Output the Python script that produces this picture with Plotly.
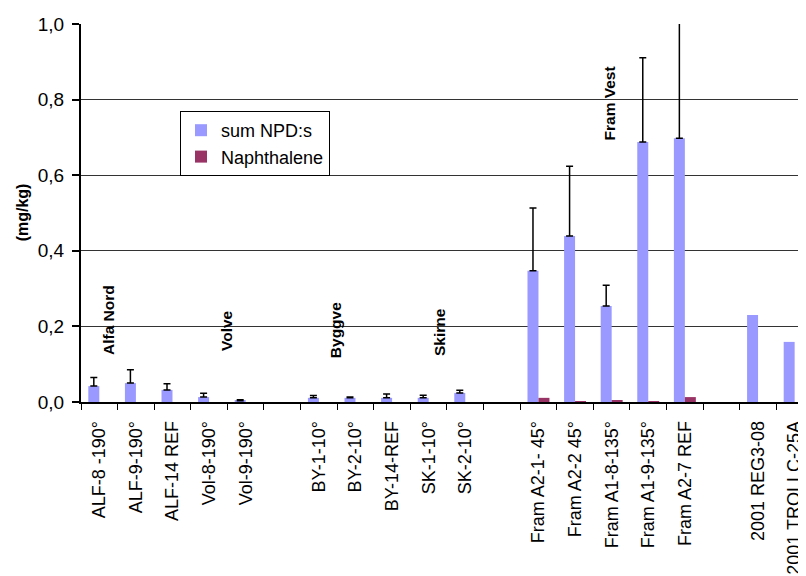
import plotly.graph_objects as go

categories = ["ALF-8 -190°", "ALF-9-190°", "ALF-14 REF", "Vol-8-190°", "Vol-9-190°", "",
              "BY-1-10°", "BY-2-10°", "BY-14-REF", "SK-1-10°", "SK-2-10°", "",
              "Fram A2-1- 45°", "Fram A2-2 45°", "Fram A1-8-135°", "Fram A1-9-135°", "Fram A2-7 REF", "",
              "2001 REG3-08", "2001 TROLLC-25A"]

sum_npd = [0.042, 0.050, 0.032, 0.013, 0.003, None,
           0.011, 0.011, 0.011, 0.011, 0.024, None,
           0.347, 0.439, 0.254, 0.688, 0.698, None,
           0.230, 0.159]

sum_npd_err = [0.023, 0.035, 0.016, 0.010, 0.003, None,
               0.006, 0.002, 0.010, 0.007, 0.007, None,
               0.166, 0.185, 0.055, 0.223, 0.310, None,
               None, None]

naphthalene = [0, 0, 0, 0, 0, None,
               0, 0, 0, 0, 0, None,
               0.011, 0.001, 0.003, 0.001, 0.013, None,
               0, 0]

groups = ["Alfa Nord", "Volve", "Byggve", "Skirne", "Fram Vest"]
group_x = [0.265, 3.49, 6.44, 9.28, 13.93]
group_y = [0.217, 0.188, 0.19, 0.185, 0.79]

yticks = [0, 0.2, 0.4, 0.6, 0.8, 1.0]

FONT = "Arial, 'Liberation Sans', sans-serif"
xs = list(range(len(categories)))
# plotly.js skips an error bar only when both ends are non-numeric (NaN)
err_plus = [e if e is not None else "NaN" for e in sum_npd_err]
err_minus = [0 if e is not None else "NaN" for e in sum_npd_err]

# the page body has an 8px margin, so the figure is 8px smaller and its margins 8px less
fig = go.Figure()
fig.add_trace(go.Bar(
    x=xs, y=sum_npd, name="sum NPD:s", marker=dict(color="#9999FF", line=dict(width=0)),
    error_y=dict(type="data", symmetric=False, array=err_plus,
                 arrayminus=err_minus, color="black", thickness=1.5, width=3.5),
    cliponaxis=False,
))
fig.add_trace(go.Bar(
    x=xs, y=naphthalene, name="Naphthalene", marker=dict(color="#993366", line=dict(width=0)),
))

for g, gx, gy in zip(groups, group_x, group_y):
    fig.add_annotation(x=gx, y=gy, xref="x", yref="y", text="<b>%s</b>" % g, textangle=-90,
                       showarrow=False, xanchor="center", yanchor="middle",
                       font=dict(family=FONT, size=15.5, color="black"))

fig.add_annotation(x=-0.0807, y=0.503, xref="paper", yref="paper", text="<b>(mg/kg)</b>",
                   textangle=-90, showarrow=False, xanchor="center", yanchor="middle",
                   font=dict(family=FONT, size=16, color="black"))

fig.update_layout(
    width=798, height=568,
    margin=dict(l=73, r=0, t=16, b=174, pad=0, autoexpand=False),
    paper_bgcolor="white", plot_bgcolor="white",
    barmode="group", bargap=0.4, bargroupgap=0,
    separators=", ",
    font=dict(family=FONT, size=18, color="black"),
    legend=dict(x=(180 - 81) / 725, y=(402 - 111) / 378, xanchor="left", yanchor="top",
                bordercolor="black", borderwidth=1, bgcolor="white",
                font=dict(family=FONT, size=18, color="black"),
                tracegroupgap=0),
    showlegend=True,
)
fig.update_xaxes(
    automargin=False,
    range=[-0.5, 19.31], tickmode="array", tickvals=xs, ticktext=categories,
    tickangle=-90, ticks="outside", ticklen=10, tickcolor="rgba(0,0,0,0)",
    showline=True, linecolor="black", linewidth=1.5, showgrid=False, zeroline=False,
    minor=dict(ticks="outside", tick0=-0.5, dtick=1, ticklen=6, tickcolor="black",
               tickwidth=1, showgrid=False),
    tickfont=dict(family=FONT, size=18, color="black"),
)
fig.update_yaxes(
    automargin=False,
    range=[0, 1.0], tickmode="array", tickvals=yticks, tickformat=".1f",
    ticks="outside", ticklen=7, tickcolor="black", tickwidth=1.5,
    ticklabelstandoff=4,
    showline=True, linecolor="black", linewidth=2,
    showgrid=True, gridcolor="#333333", gridwidth=1, zeroline=False,
    tickfont=dict(family=FONT, size=19, color="black"),
)

fig.write_html("out.html")
